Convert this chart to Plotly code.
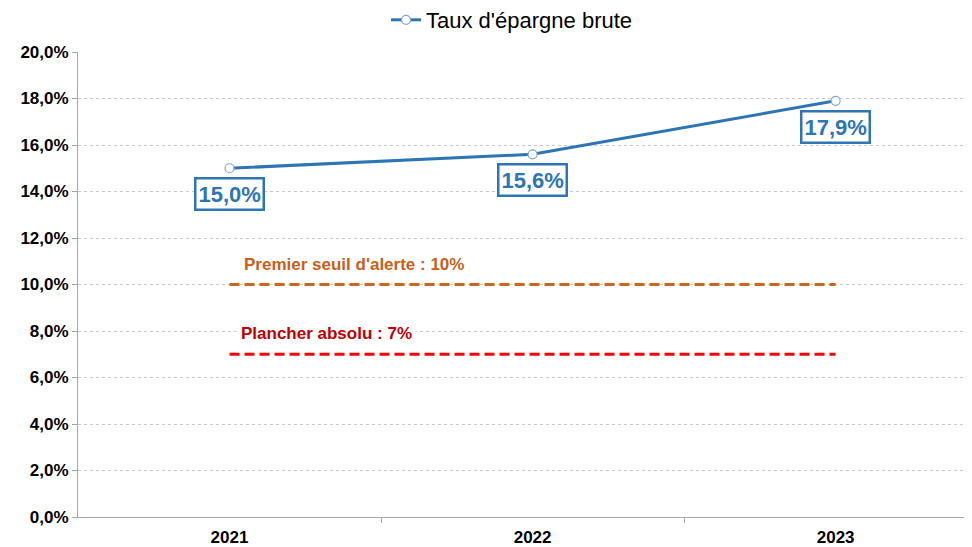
import plotly.graph_objects as go

years = ["2021", "2022", "2023"]
taux = [15.0, 15.6, 17.9]
labels = ["15,0%", "15,6%", "17,9%"]
seuil_alerte = [10, 10, 10]
plancher = [7, 7, 7]
yticks = [0, 2, 4, 6, 8, 10, 12, 14, 16, 18, 20]
ytick_text = ["0,0%", "2,0%", "4,0%", "6,0%", "8,0%", "10,0%", "12,0%", "14,0%", "16,0%", "18,0%", "20,0%"]

xs = list(range(len(years)))
blue = "#2E75B6"
font = "Liberation Sans, Arial, sans-serif"

fig = go.Figure()
fig.add_trace(go.Scatter(
    x=xs, y=seuil_alerte, mode="lines", showlegend=False, hoverinfo="skip",
    line=dict(color="#D0661C", width=3, dash="10px,5px")))
fig.add_trace(go.Scatter(
    x=xs, y=plancher, mode="lines", showlegend=False, hoverinfo="skip",
    line=dict(color="#FF0000", width=3, dash="10px,5px")))
fig.add_trace(go.Scatter(
    x=xs, y=taux, mode="lines+markers", name="Taux d'épargne brute",
    line=dict(color=blue, width=3),
    marker=dict(symbol="circle", size=9, color="white", line=dict(color="#7FA7D0", width=1.2))))

for x, y, t in zip(xs, taux, labels):
    fig.add_annotation(x=x, y=y, text="<b>" + t + "</b>", showarrow=False, yshift=-26,
                       font=dict(family=font, size=22, color=blue),
                       bgcolor="white", bordercolor=blue, borderwidth=2.5, borderpad=2)

fig.add_annotation(x=0.41, y=10, text="<b>Premier seuil d'alerte : 10%</b>", showarrow=False,
                   yshift=20, font=dict(family=font, size=17, color="#C8601A"))
fig.add_annotation(x=0.32, y=7, text="<b>Plancher absolu : 7%</b>", showarrow=False,
                   yshift=21, bgcolor="white", borderpad=4,
                   font=dict(family=font, size=17, color="#C00000"))

fig.update_layout(
    width=964, height=539,
    margin=dict(l=70, r=0, t=44, b=30, autoexpand=False),
    paper_bgcolor="white", plot_bgcolor="white",
    font=dict(family=font, color="black"),
    legend=dict(orientation="h", x=0.4855, xanchor="center", y=1 - 12 / 539, yanchor="middle",
                yref="container",
                font=dict(family=font, size=22, color="black")),
    xaxis=dict(range=[-0.5, 2.45], tickvals=xs, ticktext=["<b>" + y + "</b>" for y in years],
               ticks="", showgrid=False, automargin=False, ticklabelstandoff=5,
               zeroline=False, showline=True, linecolor="#A6A6A6", linewidth=1,
               tickfont=dict(family=font, size=17, color="black"),
               minor=dict(tickvals=[0.5, 1.5], ticks="outside", ticklen=5, tickcolor="#A6A6A6", showgrid=False)),
    yaxis=dict(range=[0, 20], tickvals=yticks, ticktext=["<b>" + t + "</b>" for t in ytick_text],
               showgrid=True, gridcolor="#C8C8C8", griddash="dot", gridwidth=1, automargin=False,
               zeroline=False, showline=True, linecolor="#A6A6A6", linewidth=1,
               ticks="outside", ticklen=5, tickcolor="#A6A6A6",
               tickfont=dict(family=font, size=17, color="black")),
)

fig.write_html("out.html")
